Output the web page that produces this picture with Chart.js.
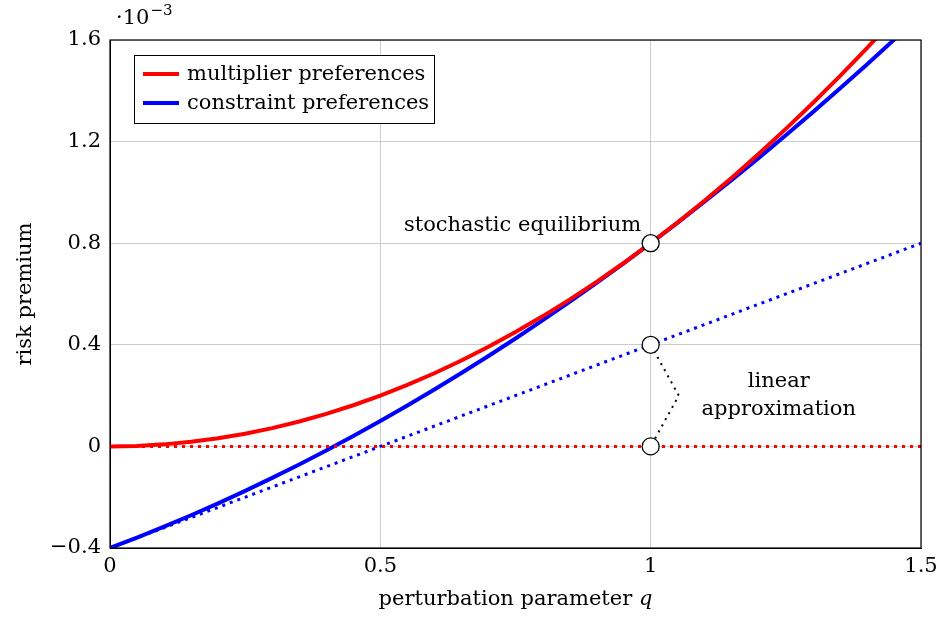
<!DOCTYPE html>
<html lang="en">
  <head>
    <meta charset="UTF-8" />
    <title>risk premium</title>
    <script src="https://cdn.jsdelivr.net/npm/chart.js"></script>
    <style>
      * {
        margin: 0;
        padding: 0;
      }
      body {
        background: #ffffff;
      }
      canvas {
        display: block;
      }
    </style>
  </head>
  <body>
    <canvas id="premiumChart" width="941" height="617"></canvas>
    <script>
      // perturbation parameter q
      const qValues = [
        0, 0.05, 0.1, 0.15, 0.2, 0.25, 0.3, 0.35, 0.4, 0.45, 0.5, 0.55, 0.6,
        0.65, 0.7, 0.75, 0.8, 0.85, 0.9, 0.95, 1, 1.05, 1.1, 1.15, 1.2, 1.25,
        1.3, 1.35, 1.4, 1.45, 1.5,
      ];
      // risk premium (x 10^-3), multiplier preferences
      const multiplierValues = [
        0, 0.002, 0.008, 0.018, 0.032, 0.05, 0.072, 0.098, 0.128, 0.162, 0.2,
        0.242, 0.288, 0.338, 0.392, 0.45, 0.512, 0.578, 0.648, 0.722, 0.8,
        0.882, 0.968, 1.058, 1.152, 1.25, 1.352, 1.458, 1.568, 1.682, 1.8,
      ];
      // risk premium (x 10^-3), constraint preferences
      const constraintValues = [
        -0.4, -0.359, -0.316, -0.271, -0.224, -0.175, -0.124, -0.071, -0.016,
        0.041, 0.1, 0.161, 0.224, 0.289, 0.356, 0.425, 0.496, 0.569, 0.644,
        0.721, 0.8, 0.881, 0.964, 1.049, 1.136, 1.225, 1.316, 1.409, 1.504,
        1.601, 1.7,
      ];
      // linear approximations
      const linearQ = [0, 1.5];
      const multiplierLinear = [0, 0];
      const constraintLinear = [-0.4, 0.8];
      // stochastic equilibrium and linear approximation points
      const markerQ = [1, 1, 1];
      const markerValues = [0.8, 0.4, 0];
      // dotted link between the two linear points
      const linkQ = [1, 1.052, 1];
      const linkValues = [0.4, 0.2, 0];

      const xTicks = [0, 0.5, 1, 1.5];
      const yTicks = [-0.4, 0, 0.4, 0.8, 1.2, 1.6];

      const FONT = "'DejaVu Serif', 'Liberation Serif', serif";
      const FS = 21;

      const pts = (xs, ys) => xs.map((x, i) => ({ x: x, y: ys[i] }));
      const fmt = (v) => {
        const r = Math.round(v * 10) / 10;
        if (r === 0) return "0";
        return (r < 0 ? "\u2212" : "") + String(Math.abs(r));
      };

      const notes = [
        { text: "stochastic equilibrium", x: 0.763, y: 0.85 },
        { text: "linear", x: 1.237, y: 0.232 },
        { text: "approximation", x: 1.237, y: 0.122 },
      ];

      const extras = {
        id: "extras",
        afterDraw(chart) {
          const ctx = chart.ctx;
          const a = chart.chartArea;
          const xs = chart.scales.x;
          const ys = chart.scales.y;
          ctx.save();
          // frame
          ctx.strokeStyle = "#000";
          ctx.lineWidth = 1.2;
          ctx.strokeRect(a.left, a.top, a.right - a.left, a.bottom - a.top);

          ctx.fillStyle = "#000";
          ctx.font = FS + "px " + FONT;
          ctx.textAlign = "center";
          ctx.textBaseline = "alphabetic";
          notes.forEach((n) => {
            ctx.fillText(n.text, xs.getPixelForValue(n.x), ys.getPixelForValue(n.y));
          });

          // legend
          ctx.fillStyle = "#fff";
          ctx.fillRect(134, 55, 300, 68);
          ctx.lineWidth = 1;
          ctx.strokeStyle = "#000";
          ctx.strokeRect(134.5, 55.5, 300, 68);
          ctx.textAlign = "left";
          ctx.textBaseline = "middle";
          chart.data.datasets.slice(0, 2).forEach((ds, i) => {
            const y = 74 + i * 29;
            ctx.strokeStyle = ds.borderColor;
            ctx.lineWidth = 4;
            ctx.beginPath();
            ctx.moveTo(143, y);
            ctx.lineTo(179, y);
            ctx.stroke();
            ctx.fillStyle = "#000";
            ctx.fillText(ds.label, 187, y + 1);
          });

          // exponent
          ctx.textBaseline = "alphabetic";
          ctx.fillText("\u00b710", 116, 24);
          const w = ctx.measureText("\u00b710").width;
          ctx.font = "15px " + FONT;
          ctx.fillText("\u22123", 116 + w + 1, 15);

          // axis titles
          ctx.font = FS + "px " + FONT;
          const t1 = "perturbation parameter ";
          const w1 = ctx.measureText(t1).width;
          ctx.font = "italic " + FS + "px " + FONT;
          const w2 = ctx.measureText("q").width;
          const cx = (a.left + a.right) / 2;
          let x0 = cx - (w1 + w2) / 2;
          ctx.font = FS + "px " + FONT;
          ctx.fillText(t1, x0, 605);
          ctx.font = "italic " + FS + "px " + FONT;
          ctx.fillText("q", x0 + w1, 605);

          ctx.font = FS + "px " + FONT;
          ctx.translate(31, (a.top + a.bottom) / 2);
          ctx.rotate(-Math.PI / 2);
          ctx.textAlign = "center";
          ctx.fillText("risk premium", 0, 0);
          ctx.restore();
        },
      };

      new Chart(document.getElementById("premiumChart"), {
        type: "line",
        data: {
          datasets: [
            {
              label: "multiplier preferences",
              data: pts(qValues, multiplierValues),
              borderColor: "#ff0000",
              borderWidth: 4,
              pointRadius: 0,
              order: 2,
            },
            {
              label: "constraint preferences",
              data: pts(qValues, constraintValues),
              borderColor: "#0000ff",
              borderWidth: 4,
              pointRadius: 0,
              order: 3,
            },
            {
              label: "multiplier linear",
              data: pts(linearQ, multiplierLinear),
              borderColor: "#ff0000",
              borderWidth: 3,
              borderDash: [3, 5],
              pointRadius: 0,
              order: 1,
            },
            {
              label: "constraint linear",
              data: pts(linearQ, constraintLinear),
              borderColor: "#0000ff",
              borderWidth: 3,
              borderDash: [3, 5],
              pointRadius: 0,
              order: 1,
            },
            {
              label: "link",
              data: pts(linkQ, linkValues),
              borderColor: "#000",
              borderWidth: 2,
              borderDash: [2, 5],
              pointRadius: 0,
              order: 1,
            },
            {
              label: "points",
              data: pts(markerQ, markerValues),
              showLine: false,
              pointRadius: 8.5,
              pointBackgroundColor: "#fff",
              pointBorderColor: "#000",
              pointBorderWidth: 1.3,
              order: 0,
            },
          ],
        },
        options: {
          responsive: false,
          animation: false,
          layout: { padding: { top: 40, right: 20 } },
          plugins: {
            legend: { display: false },
            tooltip: { enabled: false },
          },
          scales: {
            x: {
              type: "linear",
              min: 0,
              max: 1.5,
              afterFit: (s) => {
                s.height = 69;
                s.paddingLeft = 0;
                s.paddingRight = 0;
              },
              afterBuildTicks: (s) => {
                s.ticks = xTicks.map((v) => ({ value: v }));
              },
              ticks: {
                callback: fmt,
                color: "#000",
                padding: 6,
                maxRotation: 0,
                font: { family: FONT, size: FS },
              },
              grid: { color: "#cccccc", drawTicks: false },
              border: { color: "#000" },
            },
            y: {
              min: -0.4,
              max: 1.6,
              afterFit: (s) => {
                s.width = 110;
              },
              afterBuildTicks: (s) => {
                s.ticks = yTicks.map((v) => ({ value: v }));
              },
              ticks: {
                callback: fmt,
                color: "#000",
                padding: 9,
                font: { family: FONT, size: FS },
              },
              grid: { color: "#cccccc", drawTicks: false },
              border: { color: "#000" },
            },
          },
        },
        plugins: [extras],
      });
    </script>
  </body>
</html>
